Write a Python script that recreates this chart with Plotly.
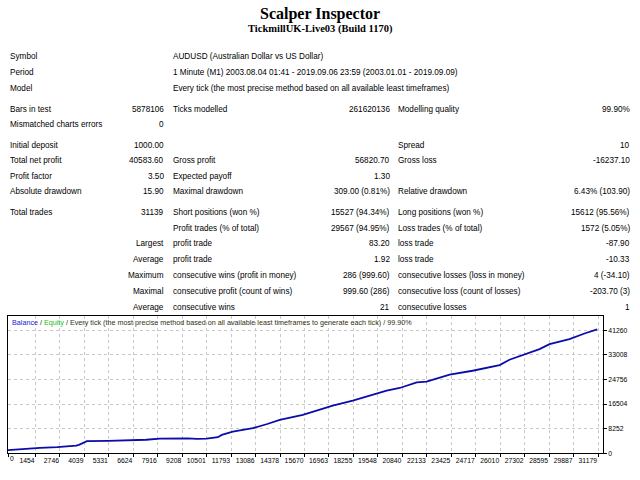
import plotly.graph_objects as go

# ---------------- data ----------------
title = "Scalper Inspector"
subtitle = "TickmillUK-Live03 (Build 1170)"

info_labels = ["Symbol", "Period", "Model"]
info_values = [
    "AUDUSD (Australian Dollar vs US Dollar)",
    "1 Minute (M1) 2003.08.04 01:41 - 2019.09.06 23:59 (2003.01.01 - 2019.09.09)",
    "Every tick (the most precise method based on all available least timeframes)",
]

col0 = ["Bars in test", "Mismatched charts errors", "Initial deposit", "Total net profit",
        "Profit factor", "Absolute drawdown", "Total trades", "", "", "", "", "", ""]
col1 = ["5878106", "0", "1000.00", "40583.60", "3.50", "15.90", "31139",
        "", "Largest", "Average", "Maximum", "Maximal", "Average"]
col2 = ["Ticks modelled", "", "", "Gross profit", "Expected payoff", "Maximal drawdown",
        "Short positions (won %)", "Profit trades (% of total)", "profit trade", "profit trade",
        "consecutive wins (profit in money)", "consecutive profit (count of wins)", "consecutive wins"]
col3 = ["261620136", "", "", "56820.70", "1.30", "309.00 (0.81%)", "15527 (94.34%)",
        "29567 (94.95%)", "83.20", "1.92", "286 (999.60)", "999.60 (286)", "21"]
col4 = ["Modelling quality", "", "Spread", "Gross loss", "", "Relative drawdown",
        "Long positions (won %)", "Loss trades (% of total)", "loss trade", "loss trade",
        "consecutive losses (loss in money)", "consecutive loss (count of losses)", "consecutive losses"]
col5 = ["99.90%", "", "10", "-16237.10", "", "6.43% (103.90)", "15612 (95.56%)",
        "1572 (5.05%)", "-87.90", "-10.33", "4 (-34.10)", "-203.70 (3)", "1"]

chart_caption = "Every tick (the most precise method based on all available least timeframes to generate each tick) / 99.90%"

# balance curve (trade number, balance)
trade_idx = [0, 790, 1690, 2600, 3115, 3600, 3750, 4000, 4170, 5300, 6340, 7300, 8030, 8920,
             9500, 9980, 10500, 11090, 11300, 11880, 12940, 13700, 14360, 15580, 16470, 17160,
             18220, 19110, 20010, 20700, 21600, 22120, 23340, 24550, 25980, 26500, 27400, 28090,
             28620, 29150, 29670, 30500, 31139]
balance = [1000, 1400, 1780, 2050, 2210, 2500, 2780, 3600, 4025, 4100, 4230, 4500, 4900, 5030,
           4950, 4800, 4850, 5370, 6140, 7245, 8385, 9800, 11170, 12845, 14620, 15965,
           17640, 19320, 21000, 21900, 23810, 24015, 26360, 27700, 29620, 31390, 33540, 34980,
           36660, 37430, 38340, 40300, 41583.6]

x_tick_vals = [0, 1454, 2746, 4039, 5331, 6624, 7916, 9208, 10501, 11793, 13086, 14378, 15670,
               16963, 18255, 19548, 20840, 22133, 23425, 24717, 26010, 27302, 28595, 29887, 31179]
y_tick_vals = [0, 8252, 16504, 24756, 33008, 41260]
x_max = 31443
y_max = 46100

# ---------------- layout helpers ----------------
W, H = 640, 480
def PX(x):
    return x / W
def PY(y):
    return 1 - y / H

ROW_FONT = dict(family="Liberation Sans", size=8.2, color="#000000")
CH_FONT = dict(family="Liberation Sans", size=6.8, color="#000000")

fig = go.Figure()
fig.add_trace(go.Scatter(x=trade_idx, y=balance, mode="lines",
                         line=dict(color="#0c0caa", width=1.8), hoverinfo="skip", showlegend=False))

ann = []
ann.append(dict(text="<b>%s</b>" % title, x=0.5, y=PY(14), xanchor="center", yanchor="middle",
                font=dict(family="Liberation Serif", size=16, color="#000000")))
ann.append(dict(text="<b>%s</b>" % subtitle, x=0.5, y=PY(29), xanchor="center", yanchor="middle",
                font=dict(family="Liberation Serif", size=10.5, color="#000000")))

info_y = [57, 73, 89]
for lab, val, yy in zip(info_labels, info_values, info_y):
    ann.append(dict(text=lab, x=PX(8), y=PY(yy), xanchor="left", yanchor="middle", font=ROW_FONT))
    ann.append(dict(text=val, x=PX(171), y=PY(yy), xanchor="left", yanchor="middle", font=ROW_FONT))

row_y = [110, 125, 146, 162, 178, 193, 214, 230, 245, 261, 277, 293, 309]
cols = [(col0, 8, "left"), (col1, 166, "right"), (col2, 171, "left"),
        (col3, 392, "right"), (col4, 396, "left"), (col5, 632, "right")]
for values, xx, anchor in cols:
    for v, yy in zip(values, row_y):
        if v:
            ann.append(dict(text=v, x=PX(xx), y=PY(yy), xanchor=anchor, yanchor="middle", font=ROW_FONT))

ann.append(dict(text="<span style='color:#2020d0'>Balance</span> / <span style='color:#20c020'>Equity</span> / "
                     + chart_caption,
                x=PX(10), y=PY(325), xanchor="left", yanchor="middle",
                font=dict(family="Liberation Sans", size=7.2, color="#303010")))
ann.append(dict(text="0", x=0, xref="x", y=PY(461), xanchor="left", yanchor="middle", font=CH_FONT))

for a in ann:
    a.setdefault("xref", "paper")
    a.setdefault("yref", "paper")
    a["showarrow"] = False

fig.update_layout(
    width=W, height=H, margin=dict(l=0, r=0, t=0, b=0),
    paper_bgcolor="white", plot_bgcolor="white",
    annotations=ann,
    xaxis=dict(domain=[PX(8), PX(603)], range=[0, x_max], tickvals=x_tick_vals,
               ticktext=[""] + [str(v) for v in x_tick_vals[1:]],
               ticklabelposition="outside left", tickfont=CH_FONT, tickangle=0,
               ticklabelstandoff=1,
               showgrid=True, gridcolor="#c8c8c8", griddash="3px,3px", gridwidth=1,
               showline=True, mirror=True, linecolor="#000000", linewidth=1,
               ticks="outside", ticklen=3, tickcolor="#000000", zeroline=False, fixedrange=True),
    yaxis=dict(domain=[PY(456), PY(318)], range=[0, y_max], tickvals=y_tick_vals,
               ticktext=[str(v) for v in y_tick_vals], side="right", tickfont=CH_FONT,
               showgrid=True, gridcolor="#c8c8c8", griddash="3px,3px", gridwidth=1,
               showline=True, mirror=True, linecolor="#000000", linewidth=1,
               ticks="outside", ticklen=3, tickcolor="#000000", zeroline=False, fixedrange=True),
)

fig.write_html("out.html", config={"displayModeBar": False},
               post_script="document.body.style.margin='0';")
